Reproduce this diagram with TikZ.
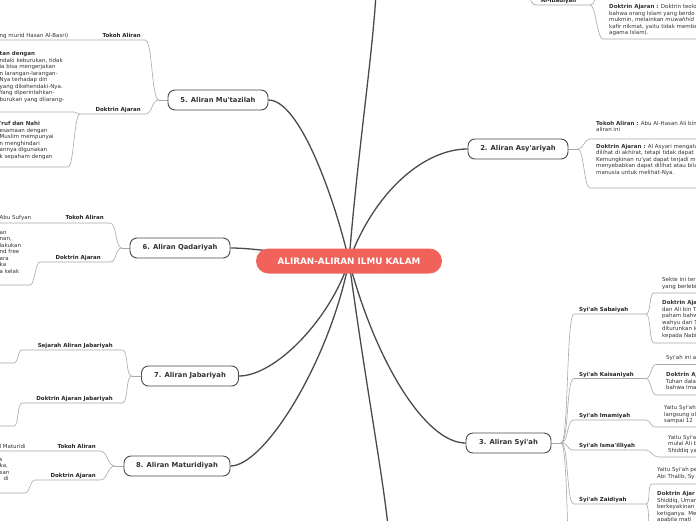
\documentclass[tikz,border=0pt]{standalone}
\usepackage{fontspec}
\setmainfont{DejaVu Sans}
\usetikzlibrary{positioning}
\definecolor{merah}{HTML}{F0625A}
\definecolor{garis}{HTML}{4A4A4A}
\definecolor{garistipis}{HTML}{A8A8A8}
\definecolor{teks}{HTML}{333333}
\newcommand{\kutip}{\textquotesingle}
\pgfdeclarelayer{bawah}
\pgfsetlayers{bawah,main}
\tikzset{
  pusat/.style={fill=merah, text=white, rounded corners=12.5pt, minimum width=186pt, minimum height=25pt, inner sep=0pt, font=\bfseries\fontsize{8.8}{10}\selectfont},
  cabang/.style={draw=garis, line width=0.9pt, fill=white, text=teks, rounded corners=7pt, minimum height=20pt, inner sep=0pt, font=\bfseries\fontsize{6.8}{8}\selectfont},
  judulkiri/.style={text=black!85, inner sep=0pt, anchor=base east, font=\bfseries\fontsize{5.5}{6.5}\selectfont},
  judulkanan/.style={judulkiri, anchor=base west},
  isi/.style={text=teks, inner sep=0pt, anchor=north west, align=left, font=\fontsize{5.5}{6.5}\selectfont},
  utama/.style={draw=garis, line width=1.3pt},
  ranting/.style={draw=garistipis, line width=0.6pt},
}
\begin{document}
\begin{tikzpicture}[x=1pt,y=-1pt]
\useasboundingbox (0,0) rectangle (696,520);
\clip (0,0) rectangle (696,520);

% pusat dan cabang utama
\node[pusat] (pusat) at (349,261) {ALIRAN-ALIRAN ILMU KALAM};
\node[cabang, minimum width=100pt] (mut) at (218,100) {5. Aliran Mu\kutip tazilah};
\node[cabang, minimum width=100pt] (qad) at (180,248) {6. Aliran Qadariyah};
\node[cabang, minimum width=97pt] (jab) at (190,376) {7. Aliran Jabariyah};
\node[cabang, minimum width=106pt] (mat) at (177,466) {8. Aliran Maturidiyah};
\node[cabang, minimum width=100pt] (asy) at (518,149) {2. Aliran Asy\kutip ariyah};
\node[cabang, minimum width=85pt] (syi) at (508.5,443) {3. Aliran Syi\kutip ah};
\coordinate (ke1) at (376,-6);
\coordinate (ke4) at (388,526);

% 5. Mu'tazilah
\node[judulkiri] (mutTokoh) at (141,37.5) {Tokoh Aliran};
\node[isi, anchor=base west] (mutTokohIsi) at (-0.5,37.5) {ng murid Hasan Al-Basri)};
\node[judulkiri] (mutDoktrin) at (141,111.5) {Doktrin Ajaran};
\node[isi] (mutDoktrinA) at (-0.5,51.5) {\textbf{tan dengan}\\ndaki keburukan, tidak\\ia bisa mengerjakan\\n larangan-larangan-\\Nya terhadap diri\\yang dikehendaki-Nya.\\Yang diperintahkan-\\burukan yang dilarang-};
\node[isi] (mutDoktrinB) at (-0.5,121.5) {\textbf{\kutip ruf dan Nahi}\\esamaan dengan\\Muslim mempunyai\\n menghindari\\annya digunakan\\k sepaham dengan};
\coordinate (mutJ) at (159,100);
\coordinate (mutTokohU) at (145,40);
\coordinate (mutDoktrinU) at (145,114);
\coordinate (mutDoktrinK) at (80,114);

% 6. Qadariyah
\node[judulkiri] (qadTokoh) at (104,219.5) {Tokoh Aliran};
\node[isi, anchor=base west] (qadTokohIsi) at (-0.5,219.5) {Abu Sufyan};
\node[judulkiri] (qadDoktrin) at (101,259.5) {Doktrin Ajaran};
\node[isi] (qadDoktrinIsi) at (-0.5,231) {an\\nan,\\lakukan\\nd free\\ara\\ka\\a kelak};
\coordinate (qadJ) at (122,248);
\coordinate (qadTokohU) at (110,223);
\coordinate (qadDoktrinU) at (110,262);
\coordinate (qadDoktrinK) at (40,262);

% 7. Jabariyah
\node[judulkiri] (jabSejarah) at (113,347) {Sejarah Aliran Jabariyah};
\node[judulkiri] (jabDoktrin) at (113,400.5) {Doktrin Ajaran Jabariyah};
\coordinate (jabJ) at (132,376);
\coordinate (jabSejarahU) at (122,350);
\coordinate (jabSejarahK) at (22,350);
\coordinate (jabDoktrinU) at (122,403);
\coordinate (jabDoktrinK) at (22,403);

% 8. Maturidiyah
\node[judulkiri] (matTokoh) at (96,448) {Tokoh Aliran};
\node[isi, anchor=base west] (matTokohIsi) at (-0.5,448) {l Maturidi};
\node[judulkiri] (matDoktrin) at (96,477.5) {Doktrin Ajaran};
\node[isi] (matDoktrinIsi) at (-0.5,458) {s\\ka,\\san\\\hspace*{4pt}di};
\coordinate (matJ) at (115,466);
\coordinate (matTokohU) at (100,451);
\coordinate (matDoktrinU) at (100,480);
\coordinate (matDoktrinK) at (35,480);

% 2. Asy'ariyah
\node[isi] (asyTokoh) at (596,121) {\textbf{Tokoh Aliran :} Abu Al-Hasan Ali bin\\aliran ini};
\node[isi] (asyDoktrin) at (596,144) {\textbf{Doktrin Ajaran :} Al Asyari mengata\\dilihat di akhirat, tetapi tidak dapat\\Kemungkinan ru\kutip yat dapat terjadi m\\menyebabkan dapat dilihat atau bila\\manusia untuk melihat-Nya.};
\coordinate (asyJ) at (578,149);
\coordinate (asyTokohB) at (590,139);
\coordinate (asyDoktrinB) at (590,188);

% 3. Syi'ah
\coordinate (syiJ) at (561,443);
\node[judulkanan] (sabaiyah) at (579,311.5) {Syi\kutip ah Sabaiyah};
\node[judulkanan] (kaisaniyah) at (579,376) {Syi\kutip ah Kaisaniyah};
\node[judulkanan] (imamiyah) at (579,417.5) {Syi\kutip ah Imamiyah};
\node[judulkanan] (ismailiyah) at (579,447.5) {Syi\kutip ah Isma\kutip illiyah};
\node[judulkanan] (zaidiyah) at (579,501.5) {Syi\kutip ah Zaidiyah};
\node[isi] (sabaiyahA) at (662,277.5) {Sekte ini ter\\yang berlebi};
\node[isi] (sabaiyahB) at (662,300.5) {\textbf{Doktrin Aja}\\dan Ali bin T\\paham bahw\\wahyu dari T\\diturunkan k\\kepada Nabi};
\node[isi] (kaisaniyahA) at (666,355) {Syi\kutip ah ini a};
\node[isi] (kaisaniyahB) at (666,372.5) {\textbf{Doktrin Aj}\\Tuhan dala\\bahwa Ima};
\node[isi] (imamiyahA) at (664,405.5) {Yaitu Syi\kutip ah\\langsung ol\\sampai 12};
\node[isi] (ismailiyahA) at (668,435) {Yaitu Syi\kutip a\\mulai Ali b\\Shiddiq ya};
\node[isi] (zaidiyahA) at (657,467.5) {Yaitu Syi\kutip ah pe\\Abi Thalib, Sy};
\node[isi] (zaidiyahB) at (657,491.5) {\textbf{Doktrin Ajar}\\Shiddiq, Umar\\berkeyakinan\\ketiganya. Me\\apabila mati};

% Al-Ibadiyah (atas)
\node[judulkanan] (ibadiyah) at (541,2) {Al-Ibadiyah};
\node[isi] (ibadiyahDoktrin) at (609,4.5) {\textbf{Doktrin Ajaran :} Doktrin teolo\\bahwa orang Islam yang berdo\\mukmin, melainkan \textit{muwahhid}\\kafir nikmat, yaitu tidak membe\\agama Islam).};
\coordinate (ibadiyahK) at (537,5);
\coordinate (ibadiyahU) at (590,5);
\coordinate (ibadiyahB) at (603,39);

\begin{pgfonlayer}{bawah}
\clip (0,0) rectangle (696,520);
% penghubung utama
\draw[utama] (pusat.center) .. controls (335,200) and (300,100) .. (mut.east);
\draw[utama] (pusat.center) .. controls (290,254) and (255,248) .. (qad.east);
\draw[utama] (pusat.center) .. controls (330,320) and (275,376) .. (jab.east);
\draw[utama] (pusat.center) .. controls (330,360) and (265,466) .. (mat.east);
\draw[utama] (pusat.center) .. controls (375,190) and (425,149) .. (asy.west);
\draw[utama] (pusat.center) .. controls (375,360) and (425,443) .. (syi.west);
\draw[utama] (pusat.center) .. controls (358,150) and (372,60) .. (ke1);
\draw[utama] (pusat.center) .. controls (365,380) and (382,470) .. (ke4);

% ranting kiri
\draw[ranting] (mut.west) -- (mutJ);
\draw[ranting] (mutJ) .. controls +(-8,0) and +(8,0) .. (mutTokohU) -- (0,40);
\draw[ranting] (mutJ) .. controls +(-8,0) and +(8,0) .. (mutDoktrinU) -- (mutDoktrinK);
\draw[ranting] (mutDoktrinK) .. controls +(-3,0) and +(3,0) .. (74,112) -- (0,112);
\draw[ranting] (mutDoktrinK) .. controls +(-6,0) and +(6,0) .. (68,167) -- (0,167);

\draw[ranting] (qad.west) -- (qadJ);
\draw[ranting] (qadJ) .. controls +(-7,0) and +(7,0) .. (qadTokohU) -- (0,223);
\draw[ranting] (qadJ) .. controls +(-7,0) and +(7,0) .. (qadDoktrinU) -- (qadDoktrinK);
\draw[ranting] (qadDoktrinK) .. controls +(-5,0) and +(5,0) .. (30,285) -- (0,285);

\draw[ranting] (jab.west) -- (jabJ);
\draw[ranting] (jabJ) .. controls +(-7,0) and +(7,0) .. (jabSejarahU) -- (jabSejarahK);
\draw[ranting] (jabJ) .. controls +(-7,0) and +(7,0) .. (jabDoktrinU) -- (jabDoktrinK);
\draw[ranting] (jabSejarahK) .. controls +(-4,0) and +(4,0) .. (14,363) -- (0,363);
\draw[ranting] (jabDoktrinK) .. controls +(-5,0) and +(5,0) .. (14,426) -- (0,426);

\draw[ranting] (mat.west) -- (matJ);
\draw[ranting] (matJ) .. controls +(-8,0) and +(8,0) .. (matTokohU) -- (0,451);
\draw[ranting] (matJ) .. controls +(-8,0) and +(8,0) .. (matDoktrinU) -- (matDoktrinK);
\draw[ranting] (matDoktrinK) .. controls +(-5,0) and +(5,0) .. (25,493) -- (0,493);

% ranting kanan
\draw[ranting] (asy.east) -- (asyJ);
\draw[ranting] (asyJ) .. controls +(6,0) and +(-6,0) .. (asyTokohB) -- (700,139);
\draw[ranting] (asyJ) .. controls +(6,0) and +(-6,0) .. (asyDoktrinB) -- (700,188);

\draw[ranting] (syi.east) -- (syiJ);
\foreach \nama/\y in {sabaiyah/314, kaisaniyah/378.5, imamiyah/420, ismailiyah/450, zaidiyah/504}{
  \draw[ranting] (syiJ) .. controls +(8,0) and +(-8,0) .. (574,\y) -- (646,\y) coordinate (\nama U);
}
\draw[ranting] (syiJ) .. controls +(8,0) and +(-8,0) .. (574,600);
\draw[ranting] (sabaiyahU) .. controls +(5,0) and +(-5,0) .. (654,293) -- (700,293);
\draw[ranting] (sabaiyahU) .. controls +(5,0) and +(-5,0) .. (654,343) -- (700,343);
\draw[ranting] (kaisaniyahU) .. controls +(5,0) and +(-5,0) .. (656,364.5) -- (700,364.5);
\draw[ranting] (kaisaniyahU) .. controls +(5,0) and +(-5,0) .. (656,395) -- (700,395);
\draw[ranting] (imamiyahU) .. controls +(5,0) and +(-5,0) .. (655,427) -- (700,427);
\draw[ranting] (ismailiyahU) .. controls +(5,0) and +(-5,0) .. (658,457) -- (700,457);
\draw[ranting] (zaidiyahU) .. controls +(5,0) and +(-5,0) .. (652,484) -- (700,484);
\draw[ranting] (zaidiyahU) .. controls +(5,0) and +(-5,0) .. (652,560);

\draw[ranting] (529,-12) .. controls (530,3) and (532,5) .. (ibadiyahK) -- (ibadiyahU);
\draw[ranting] (ibadiyahU) .. controls +(5,0) and +(-1,6) .. (596,-8);
\draw[ranting] (ibadiyahU) .. controls +(6,0) and +(-6,0) .. (ibadiyahB) -- (700,39);
\end{pgfonlayer}
\end{tikzpicture}
\end{document}
